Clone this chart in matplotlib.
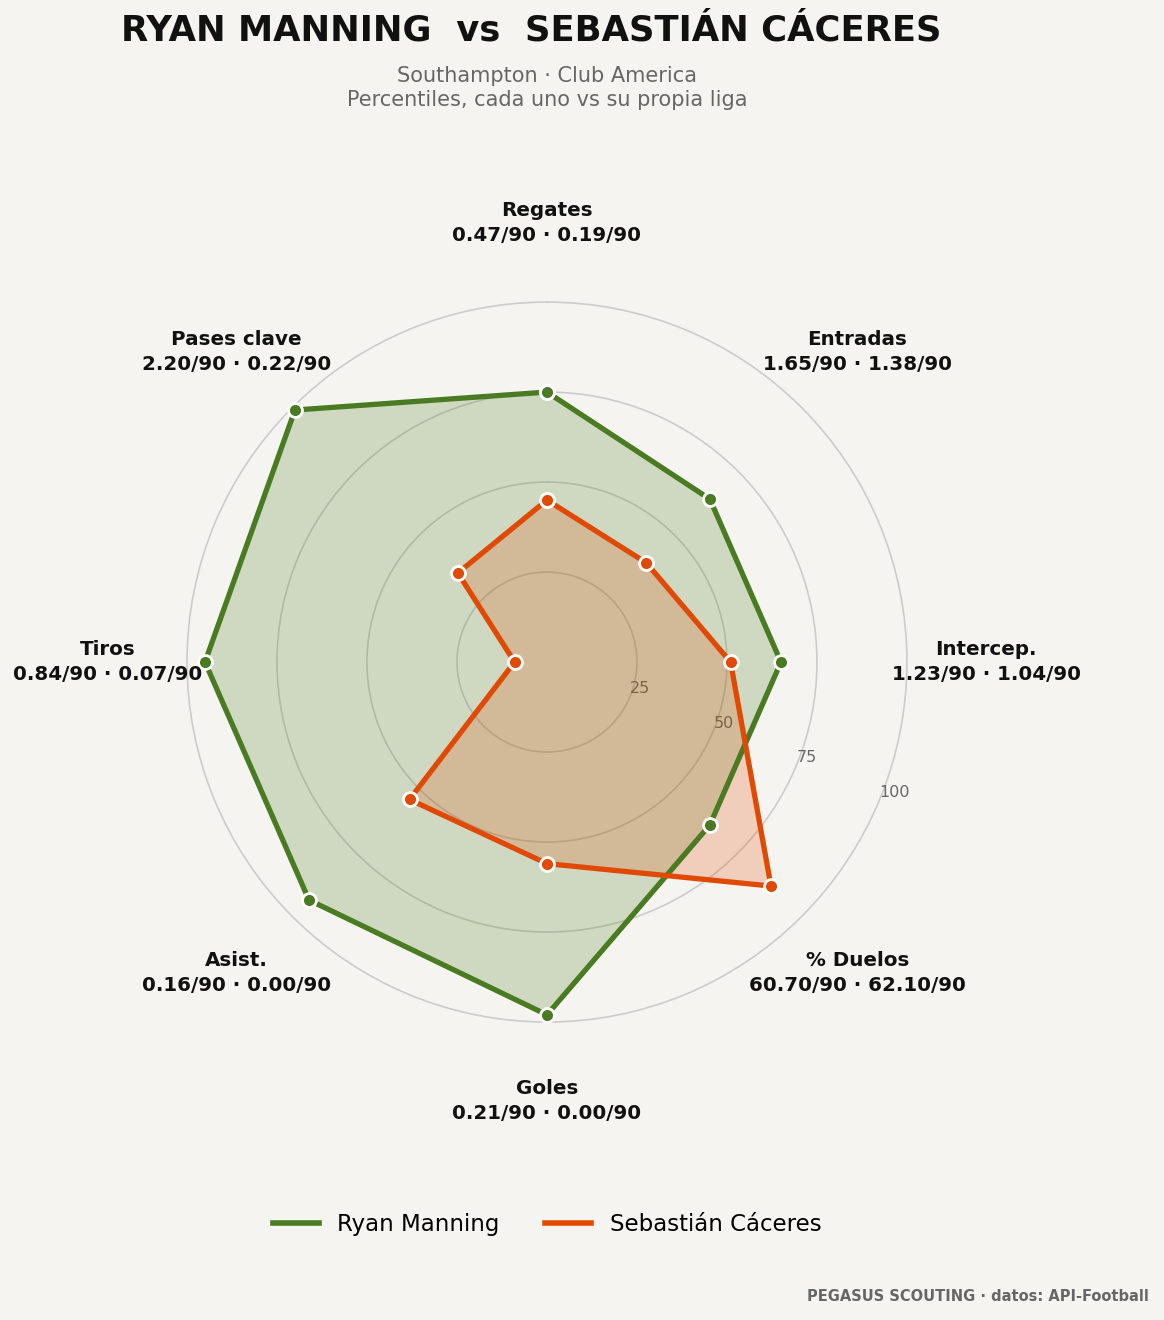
import matplotlib.pyplot as plt
import numpy as np
from matplotlib.lines import Line2D

# data
categories = ["Regates", "Entradas", "Intercep.", "% Duelos", "Goles", "Asist.", "Tiros", "Pases clave"]
manning_pct = [75, 64, 65, 64, 98, 93.5, 95, 99]
caceres_pct = [45, 39, 51, 88, 56, 54, 9, 35]
manning_p90 = [0.47, 1.65, 1.23, 60.70, 0.21, 0.16, 0.84, 2.20]
caceres_p90 = [0.19, 1.38, 1.04, 62.10, 0.00, 0.00, 0.07, 0.22]
r_ticks = [25, 50, 75, 100]

bg = "#f5f4f0"
green = "#4a7a22"
orange = "#e04a00"

n = len(categories)
angles = np.linspace(0, 2 * np.pi, n, endpoint=False)
ang_c = np.concatenate([angles, angles[:1]])

fig = plt.figure(figsize=(11.64, 13.2), dpi=100, facecolor=bg)
ax = fig.add_axes([0.15756, 0.2230, 0.6247, 0.5509], projection="polar")
ax.set_facecolor(bg)
ax.set_theta_zero_location("N")
ax.set_theta_direction(-1)
ax.set_ylim(0, 101)

ax.set_xticks(angles)
ax.set_xticklabels([])
ax.xaxis.grid(False)
ax.set_yticks(r_ticks)
ax.set_yticklabels([str(t) for t in r_ticks], fontsize=11.5, color="#666666")
ax.set_rlabel_position(112.5)
ax.yaxis.grid(True, color="#cccccc", linewidth=1.2)
ax.spines["polar"].set_visible(False)

for vals, col, name in [(manning_pct, green, "Ryan Manning"), (caceres_pct, orange, "Sebastián Cáceres")]:
    v = np.concatenate([vals, vals[:1]])
    ax.fill(ang_c, v, color=col, alpha=0.22, zorder=2)
    ax.plot(ang_c, v, color=col, linewidth=3.8, zorder=3, label=name,
            marker="o", markersize=10, markerfacecolor=col,
            markeredgecolor="white", markeredgewidth=2)

for a, cat, m, c in zip(angles, categories, manning_p90, caceres_p90):
    ax.text(a, 122, f"{cat}\n{m:.2f}/90 · {c:.2f}/90", ha="center", va="center",
            fontsize=14.3, fontweight="bold", color="#111111", linespacing=1.4)

fig.text(0.456, 0.977, "RYAN MANNING  vs  SEBASTIÁN CÁCERES", ha="center", va="center",
         fontsize=25.5, fontweight="bold", color="#111111")
fig.text(0.47, 0.933, "Southampton · Club America\nPercentiles, cada uno vs su propia liga",
         ha="center", va="center", fontsize=15, color="#666666", linespacing=1.25)

handles, labels = ax.get_legend_handles_labels()
leg_handles = [Line2D([0], [0], color=green, linewidth=4), Line2D([0], [0], color=orange, linewidth=4)]
fig.legend(leg_handles, labels, loc="center", bbox_to_anchor=(0.47, 0.0727), ncol=2,
           frameon=False, fontsize=16.5)

fig.text(0.987, 0.018, "PEGASUS SCOUTING · datos: API-Football", ha="right", va="center",
         fontsize=10.5, fontweight="bold", color="#666666")

fig.savefig("out.png", dpi=100, facecolor=bg)
